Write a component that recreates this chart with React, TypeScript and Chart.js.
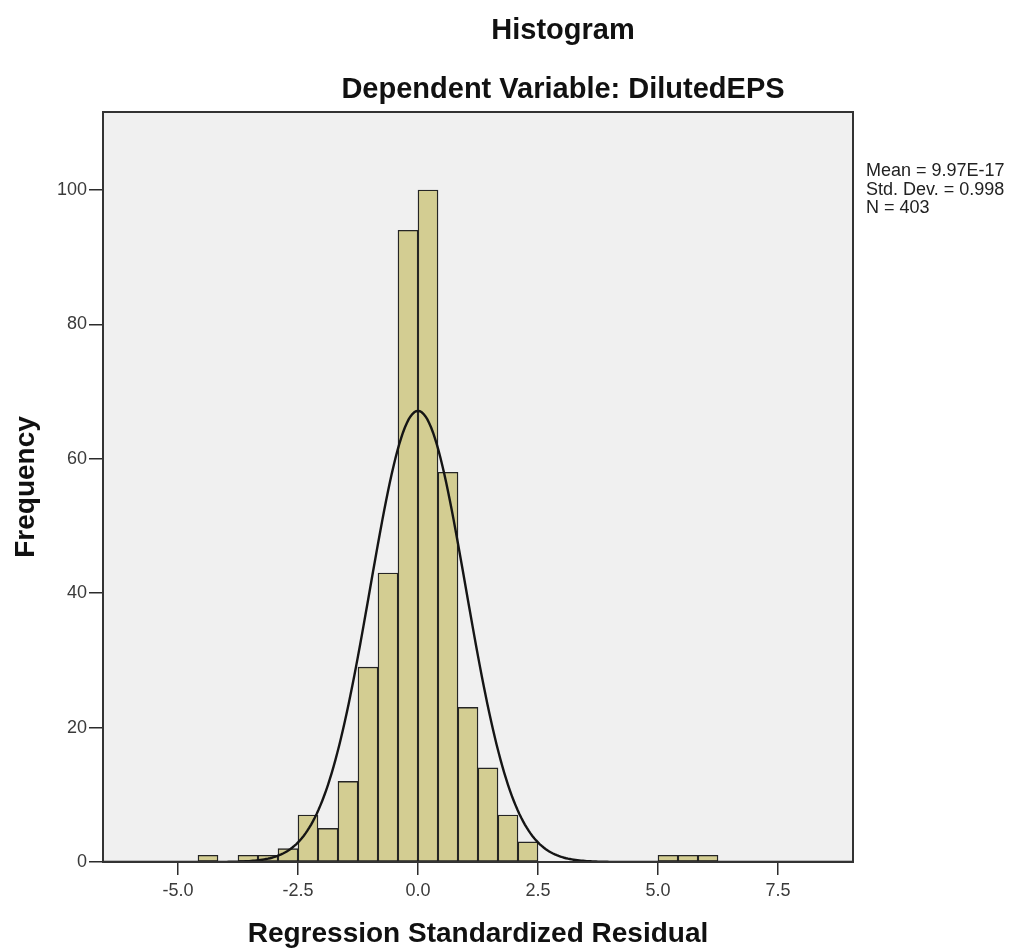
import React, { useEffect, useRef } from 'react';
import { Chart, registerables } from 'chart.js';

Chart.register(...registerables);

// ---- data ----
const binWidth = 2.5 / 6; // SPSS bin width (6 bins per 2.5 units)
const firstBinIndex = -11; // first bin starts at -11 * binWidth
const frequencies = [1, 0, 1, 1, 2, 7, 5, 12, 29, 43, 94, 100, 58, 23, 14, 7, 3, 0, 0, 0, 0, 0, 0, 1, 1, 1];
const xTickValues = [-5, -2.5, 0, 2.5, 5, 7.5];
const yTickValues = [0, 20, 40, 60, 80, 100];
const statMean = 9.97e-17;
const statSd = 0.998;
const statN = 403;
const statsLines = ['Mean = 9.97E-17', 'Std. Dev. = 0.998', 'N = 403'];
const titleText = 'Histogram';
const subtitleText = 'Dependent Variable: DilutedEPS';
const xTitle = 'Regression Standardized Residual';
const yTitle = 'Frequency';

const X_MIN = -6.5625;
const X_MAX = 9.0625;
const Y_MAX = 111.6;

const FONT = '"Liberation Sans", Arial, sans-serif';

const barPoints = frequencies.map((f, i) => ({
  x: (firstBinIndex + i + 0.5) * binWidth,
  y: f,
}));

// normal curve defined by the displayed statistics
const curvePoints: { x: number; y: number }[] = [];
{
  const scale = (statN * binWidth) / (statSd * Math.sqrt(2 * Math.PI));
  const steps = 400;
  for (let i = 0; i <= steps; i++) {
    const x = X_MIN + ((X_MAX - X_MIN) * i) / steps;
    const z = (x - statMean) / statSd;
    curvePoints.push({ x, y: scale * Math.exp(-0.5 * z * z) });
  }
}

const decorPlugin = {
  id: 'decor',
  beforeDraw(chart: any) {
    const { ctx, chartArea: a } = chart;
    ctx.save();
    ctx.fillStyle = '#ffffff';
    ctx.fillRect(0, 0, chart.width, chart.height);
    ctx.fillStyle = '#f0f0f0';
    ctx.fillRect(a.left, a.top, a.right - a.left, a.bottom - a.top);
    ctx.restore();
  },
  afterDraw(chart: any) {
    const { ctx, chartArea: a } = chart;
    ctx.save();
    // frame
    ctx.strokeStyle = '#333333';
    ctx.lineWidth = 2;
    ctx.strokeRect(a.left, a.top, a.right - a.left, a.bottom - a.top);

    ctx.fillStyle = '#111';
    ctx.textAlign = 'center';
    ctx.textBaseline = 'alphabetic';
    ctx.font = `bold 29px ${FONT}`;
    ctx.fillText(titleText, 563, 39);
    ctx.fillText(subtitleText, 563, 98);

    ctx.font = `bold 28px ${FONT}`;
    ctx.fillText(xTitle, (a.left + a.right) / 2, 942);

    ctx.save();
    ctx.translate(34, (a.top + a.bottom) / 2);
    ctx.rotate(-Math.PI / 2);
    ctx.fillText(yTitle, 0, 0);
    ctx.restore();

    ctx.textAlign = 'left';
    ctx.fillStyle = '#222';
    ctx.font = `18px ${FONT}`;
    statsLines.forEach((s, i) => ctx.fillText(s, 866, 176 + i * 18.5));
    ctx.restore();
  },
};

export default function App() {
  const ref = useRef<HTMLCanvasElement | null>(null);

  useEffect(() => {
    if (!ref.current) return;
    const chart = new Chart(ref.current, {
      type: 'bar',
      data: {
        datasets: [
          {
            type: 'line',
            data: curvePoints,
            borderColor: '#151515',
            borderWidth: 2.4,
            pointRadius: 0,
            tension: 0,
            fill: false,
            order: 1,
          } as any,
          {
            type: 'bar',
            data: barPoints,
            backgroundColor: 'rgb(211, 205, 146)',
            borderColor: '#252525',
            borderWidth: 1.4,
            borderSkipped: false,
            barPercentage: 1,
            categoryPercentage: 1,
            grouped: false,
            order: 2,
          } as any,
        ],
      },
      plugins: [decorPlugin],
      options: {
        animation: false,
        responsive: false,
        maintainAspectRatio: false,
        layout: { padding: { left: 43, top: 112, right: 171, bottom: 50 } },
        plugins: {
          legend: { display: false },
          tooltip: { enabled: false },
          title: { display: false },
        },
        scales: {
          x: {
            type: 'linear',
            min: X_MIN,
            max: X_MAX,
            offset: false,
            afterFit: (s: any) => {
              s.height = 40;
            },
            afterBuildTicks: (s: any) => {
              s.ticks = xTickValues.map((v) => ({ value: v }));
            },
            ticks: {
              autoSkip: false,
              maxRotation: 0,
              padding: 5,
              color: '#3a3a3a',
              font: { family: FONT, size: 18 },
              callback: (v: any) => Number(v).toFixed(1),
            },
            grid: {
              display: true,
              offset: false,
              drawOnChartArea: false,
              drawTicks: true,
              tickLength: 13,
              color: '#2b2b2b',
              lineWidth: 1.5,
            },
            border: { display: false },
          },
          y: {
            type: 'linear',
            min: 0,
            max: Y_MAX,
            afterFit: (s: any) => {
              s.width = 60;
            },
            afterBuildTicks: (s: any) => {
              s.ticks = yTickValues.map((v) => ({ value: v }));
            },
            ticks: {
              autoSkip: false,
              padding: 2,
              color: '#3a3a3a',
              font: { family: FONT, size: 18 },
              callback: (v: any) => String(v),
            },
            grid: {
              display: true,
              offset: false,
              drawOnChartArea: false,
              drawTicks: true,
              tickLength: 14,
              color: '#2b2b2b',
              lineWidth: 1.5,
            },
            border: { display: false },
          },
        },
      } as any,
    });
    return () => chart.destroy();
  }, []);

  return (
    <div style={{ position: 'fixed', left: 0, top: 0, width: 1024, height: 952, background: '#fff' }}>
      <canvas ref={ref} width={1024} height={952} style={{ display: 'block', width: 1024, height: 952 }} />
    </div>
  );
}
